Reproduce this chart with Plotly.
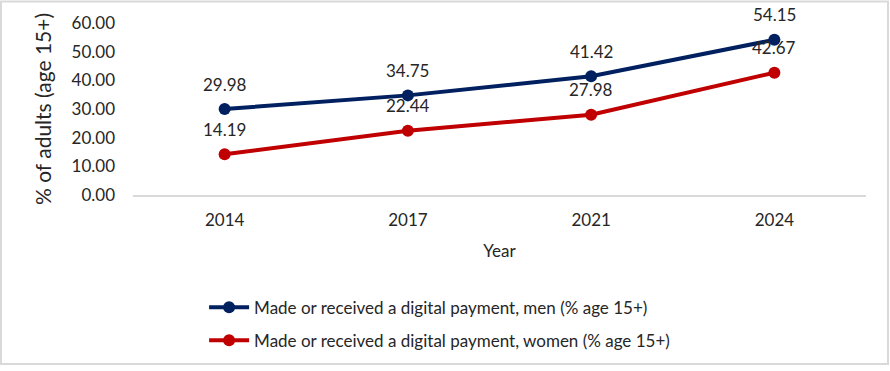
import plotly.graph_objects as go

years = ["2014", "2017", "2021", "2024"]
men = [29.98, 34.75, 41.42, 54.15]
women = [14.19, 22.44, 27.98, 42.67]
y_ticks = [0, 10, 20, 30, 40, 50, 60]

FONT = "Lato, Open Sans, sans-serif"
TXT = "#262626"
xpos = list(range(len(years)))

fig = go.Figure()
series = [
    ("Made or received a digital payment, men (% age 15+)", men, "#002060", "m"),
    ("Made or received a digital payment, women (% age 15+)", women, "#C00000", "w"),
]
for name, vals, col, grp in series:
    fig.add_trace(go.Scatter(
        x=xpos, y=vals, mode="lines+markers", name=name, legendgroup=grp,
        line=dict(color=col, width=4),
        marker=dict(size=12, color=col),
        cliponaxis=False,
    ))
    for xi, v in zip(xpos, vals):
        fig.add_annotation(x=xi, y=v, text=f"{v:.2f}", showarrow=False,
                           yshift=25, font=dict(size=17, color=TXT, family=FONT))

fig.update_layout(
    width=890, height=371,
    margin=dict(l=133, r=24, t=23, b=173),
    paper_bgcolor="white", plot_bgcolor="white",
    font=dict(family=FONT, size=17, color=TXT),
    showlegend=True,
    legend=dict(
        x=0.097, y=-0.55, xref="paper", yref="paper",
        xanchor="left", yanchor="top",
        font=dict(size=17, color=TXT, family=FONT),
        traceorder="grouped", tracegroupgap=8, itemwidth=40,
        bgcolor="rgba(0,0,0,0)",
    ),
    xaxis=dict(
        range=[-0.5, 3.5], tickvals=xpos, ticktext=years,
        showgrid=False, zeroline=False,
        showline=True, linecolor="#D9D9D9", linewidth=2,
        ticks="", tickfont=dict(size=17, color=TXT), ticklabelstandoff=9,
        title=dict(text="Year", font=dict(size=17, color=TXT), standoff=16),
    ),
    yaxis=dict(
        range=[0, 60], tickvals=y_ticks,
        ticktext=[f"{v:.2f}" for v in y_ticks],
        showgrid=False, zeroline=False, showline=False, ticks="",
        tickfont=dict(size=17, color=TXT), ticklabelstandoff=17,
        title=dict(text="% of adults (age 15+)", font=dict(size=21, color=TXT), standoff=14),
    ),
)
# border around whole chart
fig.add_shape(type="rect", xref="paper", yref="paper",
              x0=-132 / 733, x1=1 + 22 / 733, y0=-172 / 175, y1=1 + 22 / 175,
              line=dict(color="#D9D9D9", width=2))

fig.write_html("out.html", config={"displayModeBar": False},
               post_script="document.body.style.margin='0';")
